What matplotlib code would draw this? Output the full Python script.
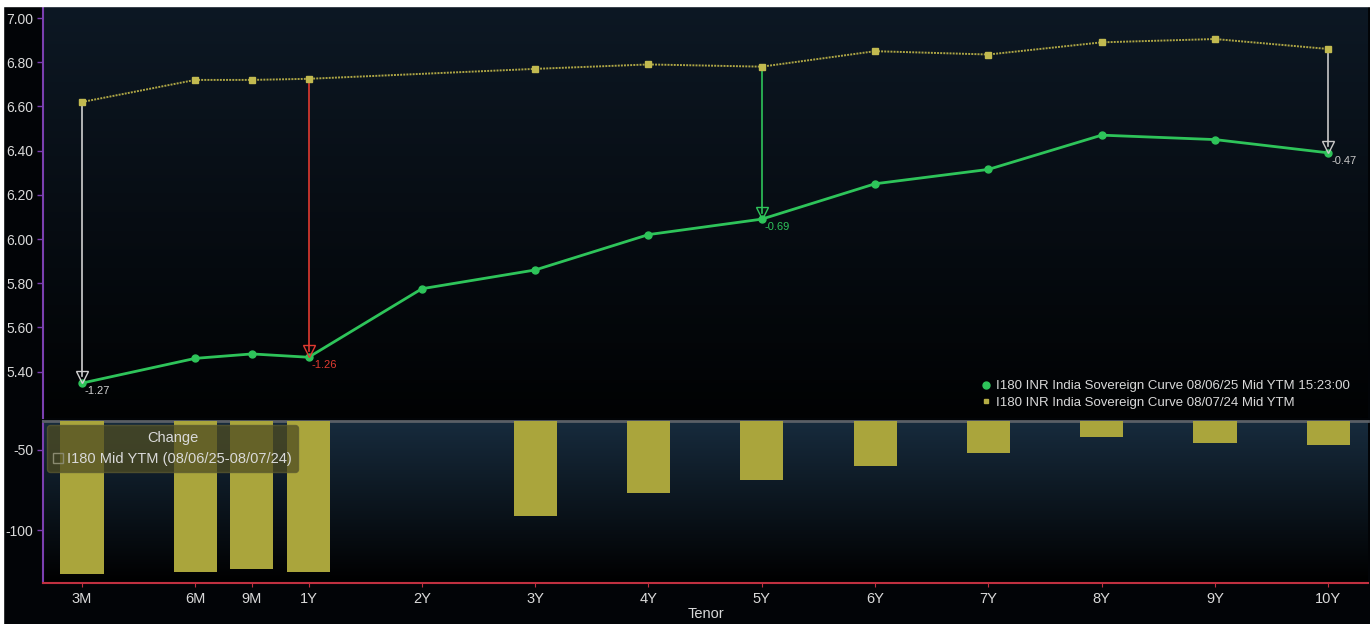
import numpy as np
import matplotlib.pyplot as plt
import matplotlib.transforms as mtrans
from matplotlib.colors import LinearSegmentedColormap
from matplotlib.patches import Patch, Rectangle
from matplotlib.lines import Line2D

plt.rcParams['font.family'] = ['Liberation Sans', 'DejaVu Sans']
plt.rcParams['axes.unicode_minus'] = False

# data
tenors = ['3M', '6M', '9M', '1Y', '2Y', '3Y', '4Y', '5Y', '6Y', '7Y', '8Y', '9Y', '10Y']
ytm_now = [5.348, 5.46, 5.48, 5.465, 5.775, 5.86, 6.02, 6.09, 6.25, 6.315, 6.47, 6.45, 6.39]
ytm_old = [6.62, 6.72, 6.72, 6.725, np.nan, 6.77, 6.79, 6.78, 6.85, 6.835, 6.89, 6.905, 6.86]
marked = ['3M', '1Y', '5Y', '10Y']
mark_cols = ['#d0d0d0', '#e03a30', '#2ec45a', '#c8c8c8']
lbl_now = 'I180 INR India Sovereign Curve 08/06/25 Mid YTM 15:23:00'
lbl_old = 'I180 INR India Sovereign Curve 08/07/24 Mid YTM'
lbl_chg = 'I180 Mid YTM (08/06/25-08/07/24)'

# layout: tenor spacing on the x axis
xpos = np.array([0, 1, 1.5, 2, 3, 4, 5, 6, 7, 8, 9, 10, 11])

now = np.array(ytm_now)
old = np.array(ytm_old)
chg = (now - old) * 100
ok = ~np.isnan(old)

txt = '#d9d9d9'
purple = '#7b3fb0'

fig = plt.figure(figsize=(13.7, 6.24), dpi=100)
fig.patch.set_facecolor('#020407')
ax1 = fig.add_axes([0.0314, 0.3301, 0.9671, 0.6587])
ax2 = fig.add_axes([0.0314, 0.0657, 0.9671, 0.2596])

# white scan border on top and left
fig.patches.append(Rectangle((0, 1 - 6 / 624), 1, 6 / 624, transform=fig.transFigure,
                             color='white', zorder=10))
fig.patches.append(Rectangle((0, 0), 3 / 1370, 1, transform=fig.transFigure,
                             color='white', zorder=10))

def bg(ax, top, bot):
    cm = LinearSegmentedColormap.from_list('g', [bot, top])
    g = np.linspace(0, 1, 256).reshape(-1, 1)
    ax.imshow(g, extent=[0, 1, 0, 1], transform=ax.transAxes, aspect='auto',
              cmap=cm, origin='lower', zorder=0)

bg(ax1, '#0d1824', '#010203')
bg(ax2, '#172b3d', '#000000')

xl = (-0.344, 11.35)

# top panel: curves
ax1.plot(xpos[ok], old[ok], color='#aea645', ls=(0, (1, 0.6)), lw=1.4,
         marker='s', ms=4, mfc='#c2ba50', mec='#c2ba50', zorder=3)
ax1.plot(xpos, now, color='#2ec45a', lw=2, marker='o', ms=5, zorder=4)

up = mtrans.ScaledTranslation(0, 4.5 / 72, fig.dpi_scale_trans)
for t, c in zip(marked, mark_cols):
    i = tenors.index(t)
    ax1.plot([xpos[i], xpos[i]], [old[i], now[i] + 0.03], color=c, lw=1.2, zorder=2)
    ax1.plot(xpos[i], now[i], marker='v', ms=8, mfc='none', mec=c, mew=1,
             transform=ax1.transData + up, zorder=5)
    ax1.annotate(f'{now[i] - old[i]:.2f}', (xpos[i], now[i]), xytext=(2, -8),
                 textcoords='offset points', color=c, fontsize=8, zorder=6)

ax1.set_xlim(*xl)
ax1.set_ylim(5.19, 7.05)
ax1.set_yticks(np.arange(5.4, 7.01, 0.2))
ax1.yaxis.set_major_formatter(plt.FormatStrFormatter('%.2f'))
ax1.set_xticks([])
ax1.tick_params(axis='y', colors=purple, labelcolor=txt, labelsize=10, length=4, width=1, pad=3)
for s in ['top', 'right', 'bottom']:
    ax1.spines[s].set_visible(False)
ax1.spines['left'].set_color(purple)
ax1.spines['left'].set_linewidth(1.5)

h = [Line2D([], [], ls='none', marker='o', ms=5, color='#2ec45a'),
     Line2D([], [], ls='none', marker='s', ms=3.5, color='#b5ad45')]
leg = ax1.legend(h, [lbl_now, lbl_old], loc='lower right', bbox_to_anchor=(0.99, 0.01),
                 frameon=False, fontsize=9.5, handlelength=0.6, handletextpad=0.4,
                 labelspacing=0.3, borderaxespad=0)
for tx in leg.get_texts():
    tx.set_color(txt)

# bottom panel: change in bp
ax2.bar(xpos[ok], chg[ok], width=0.38, color='#aaa53c', zorder=3)
ax2.set_xlim(*xl)
ax2.set_ylim(-133, -32)
ax2.set_yticks([-50, -100])
ax2.set_xticks(xpos)
ax2.set_xticklabels(tenors)
ax2.tick_params(axis='y', colors=purple, labelcolor=txt, labelsize=10, length=4, width=1, pad=3)
ax2.tick_params(axis='x', colors='#c03040', labelcolor=txt, labelsize=10.5, length=3)
ax2.set_xlabel('Tenor', color=txt, fontsize=10.5, labelpad=1)
ax2.spines['right'].set_visible(False)
ax2.spines['top'].set_color('#5a5f66')
ax2.spines['top'].set_linewidth(2)
ax2.spines['left'].set_color(purple)
ax2.spines['left'].set_linewidth(1.5)
ax2.spines['bottom'].set_color('#c03040')
ax2.spines['bottom'].set_linewidth(1.5)

leg2 = ax2.legend([Patch(facecolor='none', edgecolor='#8a8a70')], [lbl_chg], title='Change',
                  loc='upper left', bbox_to_anchor=(0.003, 0.975), borderaxespad=0,
                  fontsize=10.5, title_fontsize=10.5, handlelength=0.7, handleheight=0.7,
                  handletextpad=0.3, fancybox=True, framealpha=0.75,
                  facecolor='#4e4c22', edgecolor='#5c5a30')
leg2.get_title().set_color(txt)
for tx in leg2.get_texts():
    tx.set_color(txt)

fig.savefig('out.png', dpi=100, facecolor=fig.get_facecolor())
